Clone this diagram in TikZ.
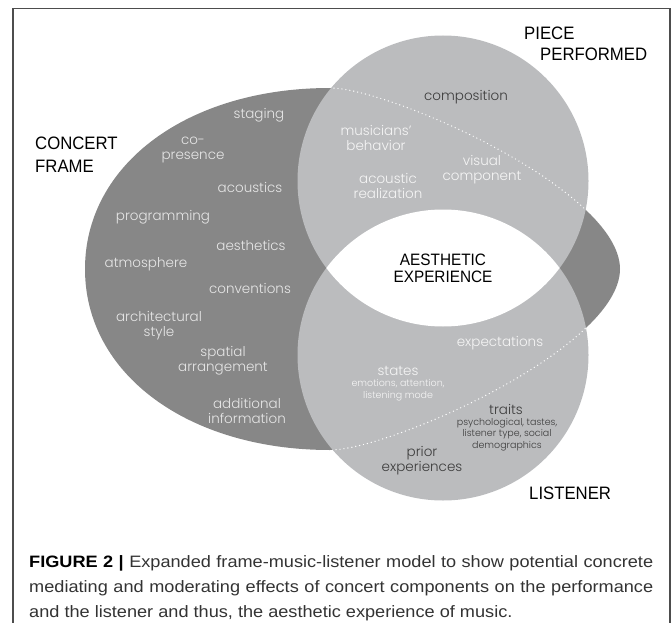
\documentclass[tikz,border=0pt]{standalone}
\usepackage{fontspec}
\setmainfont{Poppins Light}
\newfontfamily\capfont[FakeStretch=1.1]{Liberation Sans}
\newfontfamily\lblfont[FakeStretch=0.93]{Liberation Sans}
\definecolor{darkgrey}{HTML}{878787}
\definecolor{lightgrey}{HTML}{BBBCBE}
\definecolor{ontxt}{HTML}{E6E6E6}
\definecolor{wtxt}{HTML}{F5F5F5}
\definecolor{dktxt}{HTML}{3C3C3C}
\definecolor{framecol}{HTML}{4D4D4D}
\definecolor{captxt}{HTML}{333333}
\begin{document}
\begin{tikzpicture}[x=1pt,y=-1pt,
  lbl/.style={inner sep=0pt, align=center, font=\fontsize{13.5}{15}\selectfont},
  onframe/.style={lbl, text=ontxt},
  oncircle/.style={lbl, text=wtxt},
  darklbl/.style={lbl, text=dktxt},
  sublbl/.style={inner sep=0pt, align=center, font=\fontsize{9.5}{11.8}\selectfont},
  title/.style={inner sep=0pt, align=left, text=black, font=\lblfont\fontsize{18}{23}\selectfont},
  dotline/.style={white, line width=1.4pt, line cap=round, dash pattern=on 0pt off 4pt}]
\useasboundingbox (0,0) rectangle (672,623);
% frame
\draw[framecol, line width=1.1pt] (13,623) -- (13,8.5) -- (670,8.5) -- (670,623);
% egg-shaped concert frame
\def\eggpath{(330,88) .. controls (390,88) and (620,190) .. (620,269)
  .. controls (620,348) and (390,450) .. (330,450)
  .. controls (188,450) and (85,374) .. (85,269)
  .. controls (85,164) and (188,88) .. (330,88) -- cycle}
\fill[darkgrey] \eggpath;
% two circles
\fill[lightgrey] (443,181) circle (145.5);
\fill[lightgrey] (443,355) circle (145.5);
\begin{scope}
  \clip (443,181) circle (145.5);
  \fill[white] (443,355) circle (145.5);
\end{scope}
% hidden outline of the concert frame, dotted
\begin{scope}
  \clip (443,181) circle (145.5) (443,355) circle (145.5);
  \draw[dotline] \eggpath;
\end{scope}
% titles
\node[title, anchor=west] (concert) at (35,143) {CONCERT};
\node[title, anchor=west] (frame) at (35,166) {FRAME};
\node[title, anchor=west] (piece) at (524,33) {PIECE};
\node[title, anchor=west] (performed) at (540,54) {PERFORMED};
\node[title, anchor=west] (listener) at (529,493) {LISTENER};
\node[inner sep=0pt, align=center, text=black, font=\lblfont\fontsize{16.5}{17}\selectfont] (aesth) at (443,268.5) {AESTHETIC\\EXPERIENCE};
% concert frame items
\node[onframe] (staging) at (259,115) {staging};
\node[onframe] (copresence) at (193,150.5) {co-\\presence};
\node[onframe] (acoustics) at (250,187) {acoustics};
\node[onframe] (programming) at (163,217) {programming};
\node[onframe] (aesthetics) at (251,245) {aesthetics};
\node[onframe] (atmosphere) at (146,264) {atmosphere};
\node[onframe] (conventions) at (250,288) {conventions};
\node[onframe] (architectural) at (159,326) {architectural\\style};
\node[onframe] (spatial) at (223,361) {spatial\\arrangement};
\node[onframe] (additional) at (247,410.5) {additional\\information};
% piece performed items
\node[darklbl] (composition) at (466,97) {composition};
\node[oncircle] (musicians) at (376,137.5) {musicians'\\behavior};
\node[oncircle] (visual) at (482,169.5) {visual\\component};
\node[oncircle] (acoustic) at (388,185.5) {acoustic\\realization};
% listener items
\node[oncircle] (expectations) at (500,343) {expectations};
\node[oncircle] (states) at (398,371) {states};
\node[sublbl, text=wtxt] (statessub) at (398,390) {emotions, attention,\\listening mode};
\node[darklbl] (traits) at (506,409) {traits};
\node[sublbl, text=dktxt] (traitssub) at (507,434.5) {psychological, tastes,\\listener type, social\\demographics};
\node[darklbl] (prior) at (422,460.5) {prior\\experiences};
% caption
\node[anchor=base west, inner sep=0pt, text=captxt, font=\capfont\fontsize{16.5}{25}\selectfont] (caption) at (29,556)
  {\parbox[t]{624pt}{\setlength{\parindent}{0pt}\hyphenpenalty=10000
  {\bfseries\color{black}FIGURE 2 |} Expanded frame-music-listener model to show potential concrete\linebreak
  mediating and moderating effects of concert components on the performance\linebreak
  and the listener and thus, the aesthetic experience of music.}};
\end{tikzpicture}
\end{document}
